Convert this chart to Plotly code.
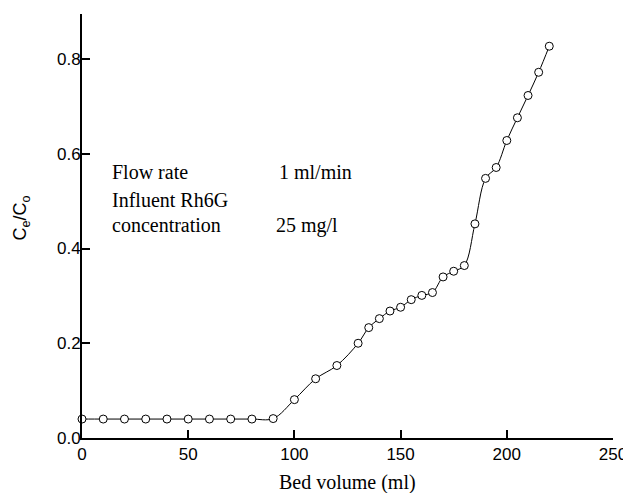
import plotly.graph_objects as go

bed_volume = [0, 10, 20, 30, 40, 50, 60, 70, 80, 90, 100, 110, 120, 130, 135, 140, 145, 150,
              155, 160, 165, 170, 175, 180, 185, 190, 195, 200, 205, 210, 215, 220]
ce_co = [0.040, 0.040, 0.040, 0.040, 0.040, 0.040, 0.040, 0.040, 0.040, 0.041, 0.081, 0.125,
         0.153, 0.200, 0.233, 0.252, 0.268, 0.276, 0.292, 0.301, 0.307, 0.340, 0.352, 0.364,
         0.452, 0.548, 0.571, 0.628, 0.676, 0.723, 0.772, 0.827]

x_ticks = [0, 50, 100, 150, 200, 250]
y_ticks = [0.0, 0.2, 0.4, 0.6, 0.8]

info_labels = ["Flow rate", "Influent Rh6G", "concentration"]
info_values = ["1 ml/min", "", "25 mg/l"]

fig = go.Figure()
fig.add_trace(go.Scatter(
    x=bed_volume, y=ce_co, mode="lines+markers",
    line=dict(color="black", width=1, shape="spline", smoothing=1.0),
    marker=dict(symbol="circle", size=8, color="white", line=dict(color="black", width=1)),
    showlegend=False, cliponaxis=False,
))

serif = "Liberation Serif, Times New Roman, serif"
sans = "Liberation Sans, Arial, sans-serif"

ann = []
label_y = [0.562, 0.503, 0.449]
for lbl, val, yy in zip(info_labels, info_values, label_y):
    ann.append(dict(x=13.2, y=yy, xref="x", yref="y", text=lbl, showarrow=False,
                    xanchor="left", yanchor="middle", font=dict(family=serif, size=20, color="black")))
    if val:
        ann.append(dict(x=92.0 if val.startswith("1") else 90.5, y=yy, xref="x", yref="y", text=val,
                        showarrow=False, xanchor="left", yanchor="middle",
                        font=dict(family=serif, size=20, color="black")))

# axis titles
ann.append(dict(x=0.5, y=-0.104, xref="paper", yref="paper", text="Bed volume (ml)", showarrow=False,
                xanchor="center", yanchor="middle", font=dict(family=serif, size=20, color="black")))
ann.append(dict(x=-0.113, y=0.52, xref="paper", yref="paper", text="C<sub>e</sub>/C<sub>o</sub>",
                showarrow=False, textangle=-90, xanchor="center", yanchor="middle",
                font=dict(family=sans, size=18, color="black")))

# the page body adds an 8px offset, so the figure is sized to fit the window
fig.update_layout(
    width=623, height=485,
    margin=dict(l=74, r=18, t=6, b=55),
    paper_bgcolor="white", plot_bgcolor="white",
    annotations=ann,
    xaxis=dict(range=[0, 250], tickvals=x_ticks, ticks="inside", ticklen=8, tickwidth=1.5,
               tickcolor="black", showline=True, linecolor="black", linewidth=2,
               showgrid=False, zeroline=False, automargin=False,
               tickfont=dict(family=sans, size=17, color="black")),
    yaxis=dict(range=[0, 0.895], tickvals=y_ticks, tickformat=".1f", ticks="inside", ticklen=8,
               tickwidth=1.5, tickcolor="black", showline=True, linecolor="black", linewidth=2,
               showgrid=False, zeroline=False, automargin=False, ticklabelstandoff=-4,
               tickfont=dict(family=sans, size=17, color="black")),
)

fig.write_html("out.html")
